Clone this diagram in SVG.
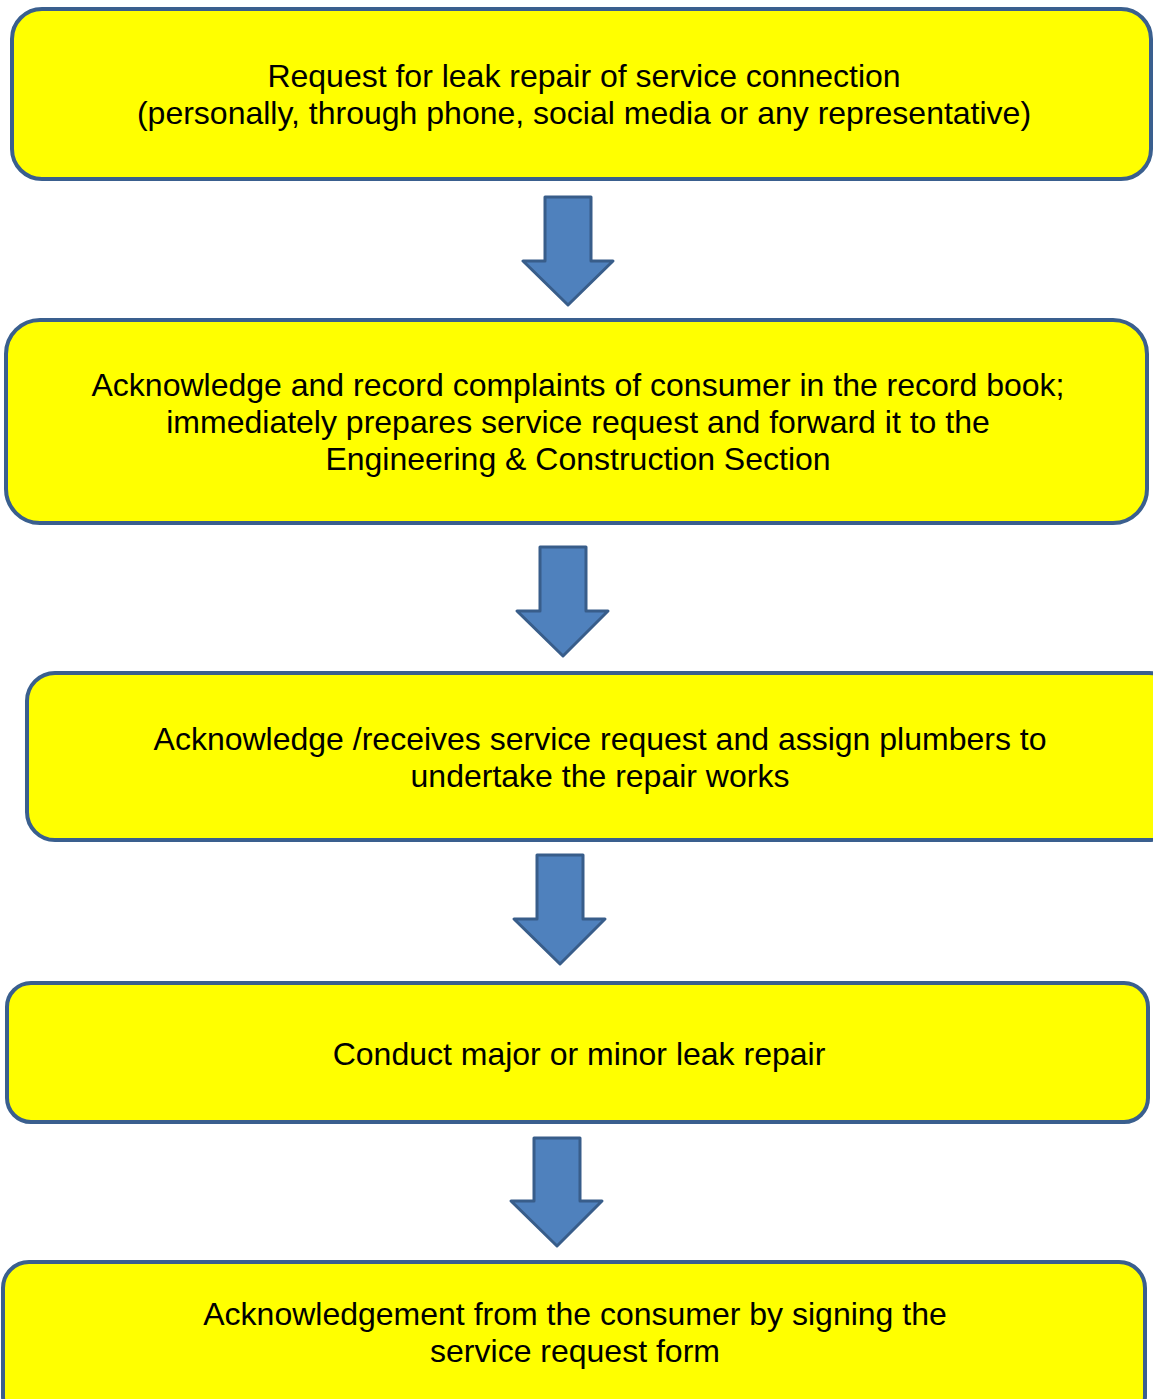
<svg xmlns="http://www.w3.org/2000/svg" width="1153" height="1399" viewBox="0 0 1153 1399">
<style>
.box{fill:#FFFF00;stroke:#3A5F8E;stroke-width:4}
.arr{fill:#4F81BD;stroke:#385D8A;stroke-width:3;stroke-linejoin:round}
text{font-family:"Liberation Sans",Arial,sans-serif;font-size:32px;fill:#000;text-anchor:middle}
</style>
<rect width="1153" height="1399" fill="#fff"/>
<g id="n1"><rect class="box" x="12" y="9" width="1139" height="170" rx="30"/>
<text x="584" y="87">Request for leak repair of service connection</text>
<text x="584" y="124">(personally, through phone, social media or any representative)</text></g>
<g id="n2"><rect class="box" x="6" y="320" width="1141" height="203" rx="34"/>
<text x="578" y="396">Acknowledge and record complaints of consumer in the record book;</text>
<text x="578" y="433">immediately prepares service request and forward it to the</text>
<text x="578" y="470">Engineering &amp; Construction Section</text></g>
<g id="n3"><rect class="box" x="27" y="673" width="1150" height="167" rx="28"/>
<text x="600" y="750">Acknowledge /receives service request and assign plumbers to</text>
<text x="600" y="787">undertake the repair works</text></g>
<g id="n4"><rect class="box" x="7" y="983" width="1141" height="139" rx="24"/>
<text x="579" y="1065">Conduct major or minor leak repair</text></g>
<g id="n5"><rect class="box" x="3" y="1262" width="1142" height="160" rx="26"/>
<text x="575" y="1325">Acknowledgement from the consumer by signing the</text>
<text x="575" y="1362">service request form</text></g>
<g id="connectors">
<polygon class="arr" points="545,197 591,197 591,261 613,261 568,305 523,261 545,261"/>
<polygon class="arr" points="540,547 586,547 586,611 608,611 563,656 517,611 540,611"/>
<polygon class="arr" points="537,855 583,855 583,919 605,919 560,964 514,919 537,919"/>
<polygon class="arr" points="534,1138 580,1138 580,1201 602,1201 557,1246 511,1201 534,1201"/>
</g>
</svg>
